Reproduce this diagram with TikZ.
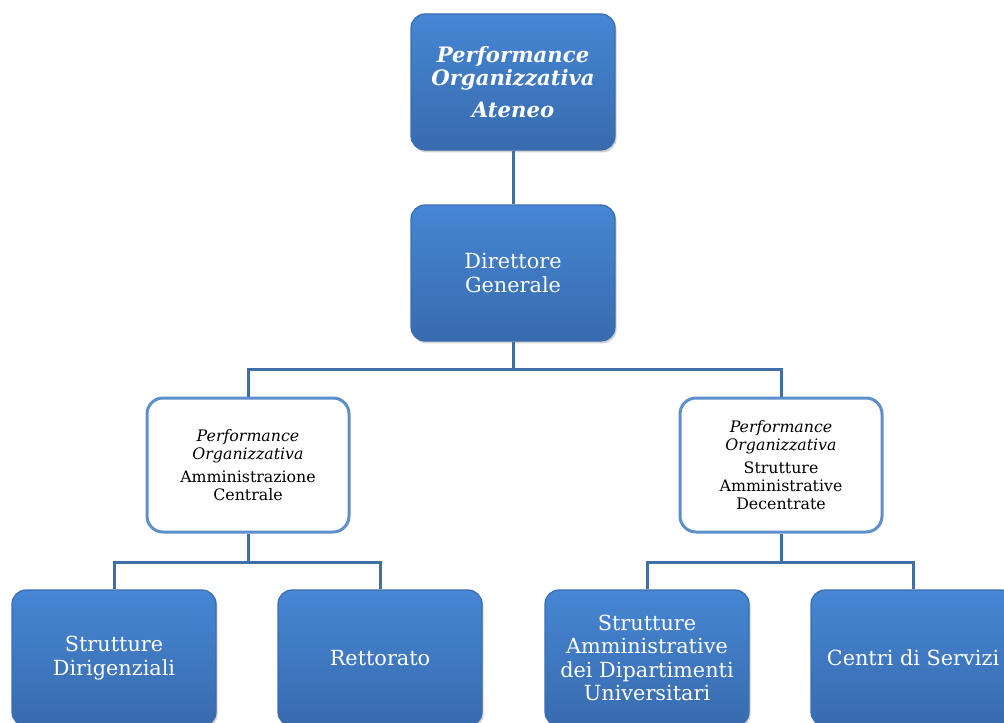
\documentclass[tikz,border=0pt]{standalone}
\usepackage{fontspec}
\setmainfont{DejaVu Serif}
\usetikzlibrary{shadows}

\definecolor{boxtop}{HTML}{4686D4}
\definecolor{boxbot}{HTML}{386BAE}
\definecolor{boxedge}{HTML}{3A6DB0}
\definecolor{linkblue}{HTML}{3F6FA6}
\definecolor{paleedge}{HTML}{5E8FCB}

\tikzset{
	bluebox/.style={rounded corners=7pt, minimum width=102pt, minimum height=68pt, top color=boxtop, bottom color=boxbot, draw=boxedge, line width=0.6pt, text=white, align=center, font=\fontsize{10.4}{11.6}\selectfont, drop shadow={shadow xshift=0.8pt, shadow yshift=-1.2pt, opacity=0.35}},
	whitebox/.style={rounded corners=8pt, minimum width=101pt, minimum height=67pt, fill=white, draw=paleedge, line width=1.5pt, align=center, font=\fontsize{7.9}{8.8}\selectfont},
	link/.style={draw=linkblue, line width=1.5pt}
}

\begin{document}
\begin{tikzpicture}[x=0.5pt, y=-0.5pt]
	\useasboundingbox (0,0) rectangle (1004,722);
	% livello superiore
	\node [bluebox, font=\bfseries\itshape\fontsize{10.6}{11.8}\selectfont] (ateneo) at (513,82) {Performance\\Organizzativa\\[4pt]Ateneo};
	\node [bluebox] (dg) at (513,273) {Direttore\\Generale};
	% livello intermedio
	\node [whitebox] (ac) at (248,465) {\textit{Performance}\\\textit{Organizzativa}\\[3pt]Amministrazione\\Centrale};
	\node [whitebox] (sad) at (781,465) {\textit{Performance}\\\textit{Organizzativa}\\[3pt]Strutture\\Amministrative\\Decentrate};
	% livello inferiore
	\node [bluebox] (sd) at (114,658) {Strutture\\Dirigenziali};
	\node [bluebox] (rett) at (380,658) {Rettorato};
	\node [bluebox] (dip) at (647,658) {Strutture\\Amministrative\\dei Dipartimenti\\Universitari};
	\node [bluebox] (cs) at (913,658) {Centri di Servizi};
	% collegamenti
	\coordinate (bus) at (513,369);
	\coordinate (lbus) at (248,562);
	\coordinate (rbus) at (781,562);
	\draw [link] (ateneo.south) -- (dg.north);
	\draw [link] (dg.south) -- (bus) -| (ac.north);
	\draw [link] (bus) -| (sad.north);
	\draw [link] (ac.south) -- (lbus) -| (sd.north);
	\draw [link] (lbus) -| (rett.north);
	\draw [link] (sad.south) -- (rbus) -| (dip.north);
	\draw [link] (rbus) -| (cs.north);
\end{tikzpicture}
\end{document}
